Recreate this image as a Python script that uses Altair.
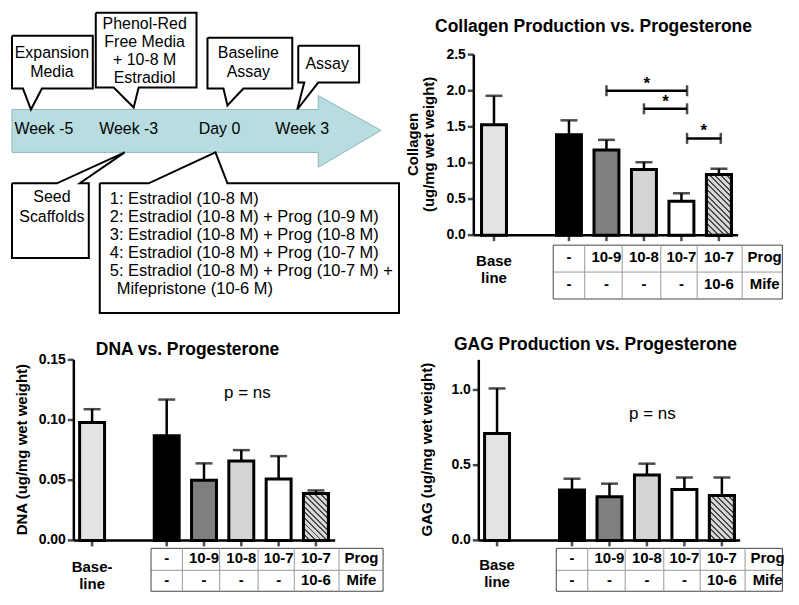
import altair as alt
import pandas as pd

W, H = 783, 583
M = 8
FONT = "Liberation Sans"

# ---------------- data ----------------
groups = ["Baseline", "Estradiol", "E + Prog 10-9", "E + Prog 10-8", "E + Prog 10-7", "E + Prog 10-7 + Mife"]
positions = [0, 2, 3, 4, 5, 6]
bar_fills = ["#e3e3e3", "#000000", "#7f7f7f", "#d4d4d4", "#ffffff", "#acacac"]

collagen_mean = [1.53, 1.39, 1.18, 0.91, 0.47, 0.84]
collagen_err = [0.40, 0.20, 0.14, 0.10, 0.11, 0.08]
dna_mean = [0.098, 0.087, 0.050, 0.066, 0.051, 0.039]
dna_err = [0.011, 0.030, 0.014, 0.009, 0.019, 0.0025]
gag_mean = [0.71, 0.335, 0.29, 0.435, 0.338, 0.298]
gag_err = [0.30, 0.075, 0.087, 0.075, 0.08, 0.12]

collagen_ticks = [0, 0.5, 1.0, 1.5, 2.0, 2.5]
dna_ticks = [0, 0.05, 0.10, 0.15]
gag_ticks = [0, 0.5, 1.0]

prog_row = ["-", "10-9", "10-8", "10-7", "10-7", "Prog"]
mife_row = ["-", "-", "-", "-", "10-6", "Mife"]
table_cols = [2, 3, 4, 5, 6, 7.22]
table_edges = [1.58, 2.42, 3.42, 4.45, 5.42, 6.62, 7.8]

sig_from = [3, 4, 5.15]
sig_to = [5.15, 5.15, 6.05]
sig_level = [2.0, 1.75, 1.34]

panel_titles = ["Collagen Production vs. Progesterone", "DNA vs. Progesterone", "GAG Production vs. Progesterone"]
panel_title_x = [593, 186, 595]
panel_title_y = [24, 348, 343]
pns_text = ["p = ns", "p = ns"]
pns_x = [246, 652]
pns_y = [391, 412]

axis_titles = ["Collagen", "(ug/mg wet weight)", "DNA (ug/mg wet weight)", "GAG (ug/mg wet weight)"]
axis_title_x = [412, 428, 20, 426]
axis_title_y = [142, 142, 448, 448]

# timeline diagram (annotation geometry, page pixels)
arrow_x = [10, 317, 317, 380, 317, 317, 10, 10]
arrow_y = [107, 107, 93, 128, 165, 150, 150, 107]
callout_names = ["expansion", "phenol", "baseline", "assay", "seed", "groups"]
callout_xs = [
    [10, 91, 91, 40, 29, 21, 10, 10],
    [94, 195, 195, 137, 132, 112, 94, 94],
    [206, 291, 291, 242, 226, 222, 206, 206],
    [297, 358, 358, 317, 296, 303, 297, 297],
    [10, 55, 123, 78, 87, 87, 10, 10],
    [98, 147, 214, 226, 398, 398, 98, 98],
]
callout_ys = [
    [33, 33, 86, 86, 107, 86, 86, 33],
    [10, 10, 85, 85, 105, 85, 85, 10],
    [35, 35, 86, 86, 103, 86, 86, 35],
    [43, 43, 80, 80, 107, 80, 80, 43],
    [181, 181, 150, 181, 181, 256, 256, 181],
    [181, 181, 150, 181, 181, 311, 311, 181],
]
diagram_text = ["Expansion", "Media", "Phenol-Red", "Free Media", "+ 10-8 M", "Estradiol",
                "Baseline", "Assay", "Assay", "Week -5", "Week -3", "Day 0", "Week 3", "Seed", "Scaffolds"]
diagram_text_x = [50, 50, 143, 143, 143, 143, 247, 247, 326, 42, 127, 218, 301, 50, 50]
diagram_text_y = [50, 69, 21, 39, 57, 75, 50, 69, 61, 127, 127, 127, 127, 195, 215]
group_lines = [
    "1: Estradiol (10-8 M)",
    "2: Estradiol (10-8 M) + Prog (10-9 M)",
    "3: Estradiol (10-8 M) + Prog (10-8 M)",
    "4: Estradiol (10-8 M) + Prog (10-7 M)",
    "5: Estradiol (10-8 M) + Prog (10-7 M) +",
    "Mifepristone (10-6 M)",
]
group_lines_x = [108, 108, 108, 108, 108, 115]
group_lines_y = [197, 215, 233, 251, 269, 287]

# ---------------- pixel layer (diagram + titles) ----------------
PX = alt.Scale(domain=[M, M + W], range=[0, W], nice=False, zero=False)
PY = alt.Scale(domain=[M, M + H], range=[0, H], nice=False, zero=False)


def pxenc():
    return dict(x=alt.X("x:Q", scale=PX, axis=None), y=alt.Y("y:Q", scale=PY, axis=None))


arrow_df = pd.DataFrame({"x": arrow_x, "y": arrow_y, "i": list(range(len(arrow_x)))})
arrow = alt.Chart(arrow_df).mark_line(fill="#b7dde1", stroke="#8fb7bd", strokeWidth=1, strokeJoin="miter").encode(
    order="i:Q", **pxenc())

rows = []
for name, xs_, ys_ in zip(callout_names, callout_xs, callout_ys):
    for i, (a, b) in enumerate(zip(xs_, ys_)):
        rows.append({"shape": name, "i": i, "x": a, "y": b})
callouts = alt.Chart(pd.DataFrame(rows)).mark_line(
    fill="white", stroke="black", strokeWidth=2, strokeJoin="miter").encode(
    detail="shape:N", order="i:Q", **pxenc())

dtext = alt.Chart(pd.DataFrame({"x": diagram_text_x, "y": diagram_text_y, "t": diagram_text})).mark_text(
    font=FONT, fontSize=16, color="black", baseline="middle").encode(text="t:N", **pxenc())
gtext = alt.Chart(pd.DataFrame({"x": group_lines_x, "y": group_lines_y, "t": group_lines})).mark_text(
    font=FONT, fontSize=16.5, color="black", baseline="middle", align="left").encode(text="t:N", **pxenc())
ttext = alt.Chart(pd.DataFrame({"x": panel_title_x, "y": panel_title_y, "t": panel_titles})).mark_text(
    font=FONT, fontSize=17.5, fontWeight="bold", color="black", baseline="middle").encode(text="t:N", **pxenc())
ptext = alt.Chart(pd.DataFrame({"x": pns_x, "y": pns_y, "t": pns_text})).mark_text(
    font=FONT, fontSize=17, color="black", baseline="middle").encode(text="t:N", **pxenc())
atext = alt.Chart(pd.DataFrame({"x": axis_title_x, "y": axis_title_y, "t": axis_titles})).mark_text(
    font=FONT, fontSize=15, fontWeight="bold", color="black", baseline="middle", angle=270).encode(
    text="t:N", **pxenc())

pixel_layer = alt.layer(arrow, callouts, dtext, gtext, ttext, ptext, atext)


def hatch_gradient(bar_w, bar_h, period=4.0):
    """Diagonal stripe fill for the hatched bar (style only)."""
    dy = -bar_h / bar_w
    L = 1 + dy * dy
    step = period * (2 ** 0.5) / (bar_w * L)
    stops, t = [], 0.0
    while t < 1.0:
        for off, col in ((t, "#4a4a4a"), (t + 0.35 * step, "#4a4a4a"),
                         (t + 0.35 * step, "#d6d6d6"), (t + step, "#d6d6d6")):
            stops.append(alt.GradientStop(offset=min(off, 1.0), color=col))
        t += step
    return alt.LinearGradient(gradient="linear", stops=stops, x1=0, y1=1, x2=1, y2=1 + dy)


# ---------------- bar panels ----------------
def panel(mean, err, x0, slot, ax_left, ax_right, y_zero, y_top, ymax, yticks, yfmt,
          tbl_top, tbl_mid, tbl_bot, row1_y, row2_y, base_label, base_y, sig=False):
    xmin, xmax = (ax_left - x0) / slot, (ax_right - x0) / slot
    xs = alt.Scale(domain=[xmin, xmax], range=[ax_left - M, ax_right - M], nice=False, zero=False)
    ys = alt.Scale(domain=[0, ymax], range=[y_zero - M, y_top - M], nice=False, zero=False)
    X = lambda f: alt.X(f, scale=xs, axis=None)
    Y = lambda f: alt.Y(f, scale=ys, axis=None)

    df = pd.DataFrame({"group": groups, "pos": positions, "mean": mean,
                       "upper": [m + e for m, e in zip(mean, err)]})
    base = alt.Chart(df)
    layers = []

    # axes
    layers.append(alt.Chart(pd.DataFrame({"a": [xmin], "lo": [0.0], "hi": [ymax]})).mark_rule(
        color="black", strokeWidth=2.5).encode(x=X("a:Q"), y=Y("lo:Q"), y2="hi:Q"))
    layers.append(alt.Chart(pd.DataFrame({"a": [xmin], "b": [xmax], "lo": [0.0]})).mark_rule(
        color="black", strokeWidth=2.5).encode(x=X("a:Q"), x2="b:Q", y=Y("lo:Q")))
    ytdf = pd.DataFrame({"a": [xmin] * len(yticks), "v": yticks})
    layers.append(alt.Chart(ytdf).mark_tick(orient="horizontal", color="black", size=6, thickness=2.5,
                                            xOffset=-3).encode(x=X("a:Q"), y=Y("v:Q")))
    layers.append(alt.Chart(ytdf).mark_text(font=FONT, fontSize=14, fontWeight="bold", color="black",
                                            align="right", baseline="middle", dx=-8).encode(
        x=X("a:Q"), y=Y("v:Q"), text=alt.Text("v:Q", format=yfmt)))
    layers.append(alt.Chart(pd.DataFrame({"p": positions, "lo": [0.0] * len(positions)})).mark_tick(
        orient="vertical", color="black", size=6, thickness=2.5, yOffset=3).encode(x=X("p:Q"), y=Y("lo:Q")))

    # bars + error bars
    layers.append(base.mark_bar(size=25, stroke="black", strokeWidth=3).encode(
        x=X("pos:Q"), y=Y("mean:Q"),
        color=alt.Color("group:N", scale=alt.Scale(domain=groups, range=bar_fills), legend=None)))
    hatch_h = mean[-1] * (y_zero - y_top) / ymax
    layers.append(base.transform_filter(alt.datum.group == groups[-1]).mark_bar(
        size=25, stroke="black", strokeWidth=3, fill=hatch_gradient(25, hatch_h)).encode(
        x=X("pos:Q"), y=Y("mean:Q")))
    layers.append(base.mark_rule(color="black", strokeWidth=2.5).encode(
        x=X("pos:Q"), y=Y("mean:Q"), y2="upper:Q"))
    layers.append(base.mark_tick(orient="horizontal", color="black", thickness=2.5, size=17).encode(
        x=X("pos:Q"), y=Y("upper:Q")))

    # table under the axis
    right_edge = min(table_edges[-1], (789 - x0) / slot)
    edges = table_edges[:-1] + [right_edge]

    def hline(ypx, color):
        return alt.Chart(pd.DataFrame({"a": [edges[0]], "b": [edges[-1]]})).mark_rule(
            color=color, strokeWidth=1).encode(x=X("a:Q"), x2="b:Q", y=alt.value(ypx - M))

    layers += [hline(tbl_top, "#444"), hline(tbl_mid, "#999"), hline(tbl_bot, "#444")]
    layers.append(alt.Chart(pd.DataFrame({"e": edges,
                                          "c": ["#444"] + ["#999"] * (len(edges) - 2) + ["#444"]})).mark_rule(
        strokeWidth=1).encode(x=X("e:Q"), y=alt.value(tbl_top - M), y2=alt.value(tbl_bot - M),
                              color=alt.Color("c:N", scale=None)))
    for row, ry in ((prog_row, row1_y), (mife_row, row2_y)):
        layers.append(alt.Chart(pd.DataFrame({"p": table_cols, "t": row})).mark_text(
            font=FONT, fontSize=15, fontWeight="bold", color="black", baseline="middle").encode(
            x=X("p:Q"), y=alt.value(ry - M), text="t:N"))
    layers.append(alt.Chart(pd.DataFrame({"p": [0], "t": [base_label]})).mark_text(
        font=FONT, fontSize=15, fontWeight="bold", color="black", baseline="middle",
        lineBreak="\n", lineHeight=17).encode(x=X("p:Q"), y=alt.value(base_y - M), text="t:N"))

    if sig:
        sdf = pd.DataFrame({"a": sig_from, "b": sig_to, "lv": sig_level,
                            "mid": [(a + b) / 2 for a, b in zip(sig_from, sig_to)], "s": ["*"] * len(sig_from)})
        sb = alt.Chart(sdf)
        layers.append(sb.mark_rule(color="black", strokeWidth=2.5).encode(x=X("a:Q"), x2="b:Q", y=Y("lv:Q")))
        for col in ("a", "b"):
            layers.append(sb.mark_tick(orient="vertical", color="black", thickness=2.5, size=11).encode(
                x=X(f"{col}:Q"), y=Y("lv:Q")))
        layers.append(sb.mark_text(font=FONT, fontSize=17, fontWeight="bold", color="black", dy=-7,
                                   baseline="middle").encode(x=X("mid:Q"), y=Y("lv:Q"), text="s:N"))
    return alt.layer(*layers)


collagen = panel(collagen_mean, collagen_err, 489, 39, 468, 743, 233, 52, 2.5,
                 collagen_ticks, ".1f", 243, 270, 297, 255, 282, "Base\nline", 259, sig=True)
dna = panel(dna_mean, dna_err, 86, 38.83, 67, 339, 539, 358, 0.15,
            dna_ticks, ".2f", 547, 569, 590, 557, 579, "Base-\nline", 566)
gag = panel(gag_mean, gag_err, 492, 39, 473, 745, 539, 358, 1.2,
            gag_ticks, ".1f", 547, 569, 590, 557, 579, "Base\nline", 564)

chart = alt.layer(pixel_layer, collagen, dna, gag).resolve_scale(
    x="independent", y="independent", color="independent"
).properties(width=W, height=H, padding=0).configure_view(stroke=None)

chart.save("out.html", embed_options={"renderer": "svg", "actions": False})
